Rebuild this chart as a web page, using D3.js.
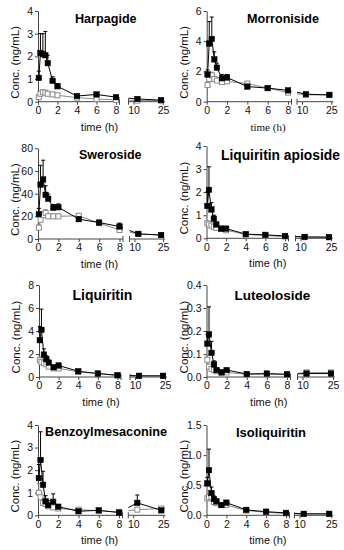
<!DOCTYPE html>
<html><head><meta charset="utf-8">
<script src="https://cdn.jsdelivr.net/npm/d3@7"></script>
<style>body{margin:0;background:#fff}svg{display:block;font-family:"Liberation Sans",Arial,sans-serif}</style>
</head><body>
<svg id="chart" width="344" height="550"></svg>
<script>
// ---- data ----
const times = [0.083, 0.25, 0.5, 0.75, 1, 1.5, 2, 4, 6, 8, 12, 24];
const xTickValues = [0, 2, 4, 6, 8, 10, 25];
const compounds = ["Harpagide", "Morroniside", "Sweroside", "Liquiritin apioside",
                   "Liquiritin", "Luteoloside", "Benzoylmesaconine", "Isoliquiritin"];
const yMaxes = [4, 6, 80, 4, 8, 0.4, 4, 1.5];
const harpagideTicks = [0, 1, 2, 3, 4];
const morronisideTicks = [0, 2, 4, 6];
const swerosideTicks = [0, 20, 40, 60, 80];
const liqApiosideTicks = [0, 1, 2, 3, 4];
const liquiritinTicks = [0, 2, 4, 6, 8];
const luteolosideTicks = [0.0, 0.1, 0.2, 0.3, 0.4];
const benzoylTicks = [0, 1, 2, 3, 4];
const isoliquiritinTicks = [0.0, 0.5, 1.0, 1.5];

// filled (black squares) mean & upper SD ; open (grey squares) mean & SD
const harpagideFilled = [1.05, 2.15, 2.1, 2.05, 1.7, 0.92, 0.68, 0.25, 0.32, 0.2, 0.12, 0.07];
const harpagideFilledSD = [0.3, 0.85, 0.9, 1.05, 0.35, 0.18, 0.12, 0.05, 0.04, 0.05, 0.03, 0.02];
const harpagideOpen = [0.2, 0.35, 0.42, 0.4, 0.35, 0.32, 0.28, 0.18, 0.12, 0.08, 0.05, 0.05];
const harpagideOpenSD = [0.06, 0.1, 0.08, 0.08, 0.06, 0.05, 0.04, 0.03, 0.03, 0.02, 0.02, 0.02];

const morronisideFilled = [1.8, 3.85, 4.15, 2.8, 2.25, 1.55, 1.6, 1.0, 0.9, 0.75, 0.5, 0.45];
const morronisideFilledSD = [0.3, 1.45, 1.45, 0.5, 0.3, 0.25, 0.2, 0.1, 0.08, 0.1, 0.05, 0.04];
const morronisideOpen = [1.1, 1.5, 1.75, 1.5, 1.4, 1.3, 1.35, 1.2, 0.9, 0.6, 0.45, 0.45];
const morronisideOpenSD = [0.2, 0.25, 0.2, 0.2, 0.2, 0.2, 0.2, 0.12, 0.1, 0.08, 0.05, 0.05];

const swerosideFilled = [22, 48, 52.5, 39, 35.5, 27.5, 28, 17.5, 14.5, 11, 4.5, 3.5];
const swerosideFilledSD = [5, 17, 17, 8, 4, 3, 3, 2, 2, 3, 1, 1];
const swerosideOpen = [10, 17, 21, 23, 20, 20, 20, 20.5, 14, 8, 4.5, 3.5];
const swerosideOpenSD = [3, 4, 3, 3, 2, 2, 2, 2, 2, 2, 1, 1];

const liqApiosideFilled = [1.4, 2.1, 1.25, 0.85, 0.6, 0.42, 0.42, 0.18, 0.15, 0.1, 0.06, 0.05];
const liqApiosideFilledSD = [0.6, 1.0, 0.3, 0.15, 0.1, 0.06, 0.06, 0.03, 0.03, 0.02, 0.02, 0.02];
const liqApiosideOpen = [0.65, 0.6, 0.55, 0.5, 0.45, 0.4, 0.35, 0.17, 0.12, 0.08, 0.05, 0.05];
const liqApiosideOpenSD = [0.1, 0.1, 0.08, 0.06, 0.05, 0.05, 0.05, 0.03, 0.02, 0.02, 0.02, 0.02];

const liquiritinFilled = [3.2, 4.1, 1.95, 1.55, 1.25, 0.85, 1.0, 0.5, 0.3, 0.15, 0.1, 0.1];
const liquiritinFilledSD = [1.2, 1.8, 0.5, 0.3, 0.2, 0.15, 0.15, 0.08, 0.05, 0.05, 0.03, 0.03];
const liquiritinOpen = [1.45, 1.3, 1.2, 1.1, 0.9, 0.75, 0.75, 0.45, 0.3, 0.15, 0.1, 0.1];
const liquiritinOpenSD = [0.3, 0.2, 0.2, 0.15, 0.1, 0.1, 0.1, 0.05, 0.05, 0.03, 0.03, 0.03];

const luteolosideFilled = [0.145, 0.185, 0.105, 0.055, 0.03, 0.02, 0.03, 0.013, 0.015, 0.012, 0.015, 0.015];
const luteolosideFilledSD = [0.04, 0.12, 0.05, 0.015, 0.008, 0.005, 0.006, 0.003, 0.003, 0.003, 0.003, 0.003];
const luteolosideOpen = [0.075, 0.045, 0.035, 0.03, 0.025, 0.02, 0.02, 0.012, 0.012, 0.01, 0.02, 0.02];
const luteolosideOpenSD = [0.02, 0.01, 0.008, 0.006, 0.005, 0.004, 0.004, 0.003, 0.003, 0.003, 0.004, 0.004];

const benzoylFilled = [1.65, 2.45, 1.35, 0.62, 0.45, 0.6, 0.38, 0.18, 0.22, 0.12, 0.55, 0.22];
const benzoylFilledSD = [0.6, 1.25, 0.6, 0.25, 0.2, 0.35, 0.1, 0.05, 0.04, 0.05, 0.35, 0.05];
const benzoylOpen = [1.0, 0.8, 0.55, 0.5, 0.4, 0.35, 0.3, 0.25, 0.2, 0.15, 0.25, 0.3];
const benzoylOpenSD = [0.4, 0.2, 0.1, 0.1, 0.08, 0.06, 0.06, 0.05, 0.04, 0.04, 0.05, 0.05];

const isoliquiritinFilled = [0.53, 0.75, 0.37, 0.27, 0.23, 0.17, 0.21, 0.09, 0.06, 0.04, 0.025, 0.025];
const isoliquiritinFilledSD = [0.1, 0.35, 0.1, 0.05, 0.04, 0.03, 0.03, 0.02, 0.01, 0.01, 0.01, 0.01];
const isoliquiritinOpen = [0.28, 0.3, 0.3, 0.22, 0.2, 0.17, 0.17, 0.08, 0.05, 0.03, 0.02, 0.02];
const isoliquiritinOpenSD = [0.05, 0.05, 0.05, 0.04, 0.03, 0.03, 0.03, 0.02, 0.01, 0.01, 0.01, 0.01];

const yTicksList = [harpagideTicks, morronisideTicks, swerosideTicks, liqApiosideTicks,
                    liquiritinTicks, luteolosideTicks, benzoylTicks, isoliquiritinTicks];
const filledList = [harpagideFilled, morronisideFilled, swerosideFilled, liqApiosideFilled,
                    liquiritinFilled, luteolosideFilled, benzoylFilled, isoliquiritinFilled];
const filledSDList = [harpagideFilledSD, morronisideFilledSD, swerosideFilledSD, liqApiosideFilledSD,
                      liquiritinFilledSD, luteolosideFilledSD, benzoylFilledSD, isoliquiritinFilledSD];
const openList = [harpagideOpen, morronisideOpen, swerosideOpen, liqApiosideOpen,
                  liquiritinOpen, luteolosideOpen, benzoylOpen, isoliquiritinOpen];
const openSDList = [harpagideOpenSD, morronisideOpenSD, swerosideOpenSD, liqApiosideOpenSD,
                    liquiritinOpenSD, luteolosideOpenSD, benzoylOpenSD, isoliquiritinOpenSD];

// ---- layout (positions only) ----
const layout = [
  {x0: 38, x8: 116, x10: 133.5, x25: 163, top: 11, zero: 101.7, tx: 75, ty: 23, ts: 12.6},
  {x0: 206.7, x8: 288, x10: 302, x25: 331.3, top: 11, zero: 101.7, tx: 247, ty: 23, ts: 12.6},
  {x0: 38, x8: 119.5, x10: 134.5, x25: 163, top: 148.3, zero: 239, tx: 79, ty: 159, ts: 12.5},
  {x0: 206.5, x8: 285, x10: 300.5, x25: 331, top: 146, zero: 238.3, tx: 221, ty: 159.5, ts: 13.8},
  {x0: 39, x8: 117.5, x10: 135, x25: 165, top: 285, zero: 377, tx: 72.5, ty: 299.5, ts: 14},
  {x0: 206.5, x8: 287, x10: 302.5, x25: 333, top: 285, zero: 377, tx: 234.5, ty: 299.5, ts: 13.5},
  {x0: 38, x8: 119, x10: 133.3, x25: 163.3, top: 425, zero: 515.3, tx: 45, ty: 436, ts: 12.7},
  {x0: 206.5, x8: 286, x10: 299.5, x25: 331.3, top: 425, zero: 515.3, tx: 236, ty: 436.7, ts: 13}
];

const svg = d3.select("#chart");
const axisColor = "#444";
const openColor = "#8a8a8a";

compounds.forEach((name, i) => {
  const L = layout[i];
  const g = svg.append("g");
  const x = d3.scaleLinear().domain([0, 8, 10, 25]).range([L.x0, L.x8, L.x10, L.x25]);
  const y = d3.scaleLinear().domain([0, yMaxes[i]]).range([L.zero, L.top]);
  const seg1End = L.x8 + 3.5, seg2Start = L.x10 - 5, seg2End = L.x25 + 2;
  const ticks = yTicksList[i];
  const fmt = (ticks[1] - ticks[0]) < 1 ? d3.format(".1f") : d3.format("d");

  // y axis
  const ya = g.append("g").attr("transform", `translate(${L.x0},0)`)
    .call(d3.axisLeft(y).tickValues(ticks).tickSize(3).tickSizeOuter(0).tickPadding(2).tickFormat(fmt));
  ya.select(".domain").attr("stroke", axisColor);
  ya.selectAll(".tick line").attr("stroke", axisColor);
  ya.selectAll("text").attr("font-size", 10.5).attr("fill", "#111").attr("font-family", "Liberation Sans, Arial, sans-serif");

  // x axis (broken)
  const xa = g.append("g").attr("transform", `translate(0,${L.zero})`)
    .call(d3.axisBottom(x).tickValues(xTickValues).tickSize(3).tickPadding(2).tickFormat(d3.format("d")));
  xa.select(".domain").remove();
  xa.selectAll(".tick line").attr("stroke", axisColor);
  xa.selectAll("text").attr("font-size", 10.5).attr("fill", "#111").attr("font-family", "Liberation Sans, Arial, sans-serif");
  [[L.x0, seg1End], [seg2Start, seg2End]].forEach(([a, b]) => {
    g.append("line").attr("x1", a).attr("x2", b).attr("y1", L.zero).attr("y2", L.zero)
      .attr("stroke", axisColor);
  });
  [seg1End, seg2Start].forEach(bx => {
    g.append("line").attr("x1", bx).attr("x2", bx).attr("y1", L.zero - 3).attr("y2", L.zero + 3)
      .attr("stroke", axisColor);
  });

  // labels
  g.append("text").attr("x", (L.x0 + L.x25) / 2 - 1).attr("y", L.zero + 29)
    .attr("text-anchor", "middle").attr("font-size", 11)
    .attr("font-family", i === 1 ? "Liberation Serif, Times New Roman, serif" : "Liberation Sans, Arial, sans-serif")
    .attr("fill", "#111").text("time (h)");
  const cy = (L.top + L.zero) / 2 + 6;
  g.append("text").attr("transform", `translate(${L.x0 - 19},${cy}) rotate(-90)`)
    .attr("text-anchor", "middle").attr("font-size", 11.5).attr("fill", "#111").text("Conc. (ng/mL)");
  g.append("text").attr("x", L.tx).attr("y", L.ty).attr("font-size", L.ts).attr("font-weight", "bold")
    .attr("fill", "#000").text(name);

  // clip for broken axis
  const clipId = "clip" + i;
  const cp = svg.append("defs").append("clipPath").attr("id", clipId);
  cp.append("rect").attr("x", L.x0 - 5).attr("y", L.top - 30).attr("width", seg1End - L.x0 + 5).attr("height", L.zero - L.top + 40);
  cp.append("rect").attr("x", seg2Start).attr("y", L.top - 30).attr("width", seg2End - seg2Start + 5).attr("height", L.zero - L.top + 40);

  const series = [
    {vals: openList[i], sd: openSDList[i], color: openColor, filled: false},
    {vals: filledList[i], sd: filledSDList[i], color: "#000", filled: true}
  ];
  const line = d3.line().x(d => x(d.t)).y(d => y(d.v));
  series.forEach(s => {
    const pts = times.map((t, k) => ({t, v: s.vals[k], e: s.sd[k]}));
    const sg = g.append("g");
    sg.append("path").datum(pts).attr("d", line).attr("fill", "none")
      .attr("stroke", s.color).attr("stroke-width", 1).attr("clip-path", `url(#${clipId})`);
    // error bars (upper)
    sg.selectAll(".eb").data(pts).enter().append("path")
      .attr("d", d => {
        const px = x(d.t), y1 = y(d.v), y2 = y(d.v + d.e);
        return `M${px},${y1}V${y2}M${px - 2},${y2}H${px + 2}`;
      })
      .attr("stroke", s.color).attr("stroke-width", 1).attr("fill", "none");
    const sz = s.filled ? 5.5 : 5;
    sg.selectAll(".m").data(pts).enter().append("rect")
      .attr("x", d => x(d.t) - sz / 2).attr("y", d => y(d.v) - sz / 2)
      .attr("width", sz).attr("height", sz)
      .attr("fill", s.filled ? "#000" : "#fff")
      .attr("stroke", s.color).attr("stroke-width", s.filled ? 0.5 : 1);
  });
});
</script>
</body></html>
